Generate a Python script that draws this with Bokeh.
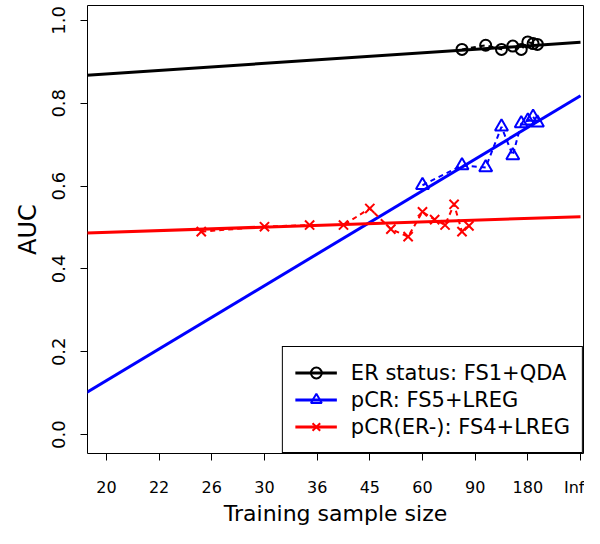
from bokeh.plotting import figure
from bokeh.models import Range1d, FixedTicker, Legend, LegendItem
from bokeh.embed import file_html
from bokeh.resources import INLINE

# ---- data ----
er_n = [80, 100, 120, 140, 160, 180, 200, 220]
er_auc = [0.930, 0.940, 0.930, 0.938, 0.930, 0.948, 0.944, 0.942]

pcr_n = [60, 80, 100, 120, 140, 160, 180, 200, 220]
pcr_auc = [0.602, 0.650, 0.645, 0.743, 0.674, 0.751, 0.758, 0.767, 0.753]

pcrneg_n = [25, 30, 35, 40, 45, 50, 55, 60, 65, 70, 75, 80, 85]
pcrneg_auc = [0.490, 0.502, 0.506, 0.506, 0.546, 0.496, 0.478, 0.538, 0.519, 0.506, 0.556, 0.490, 0.504]

# fitted learning curves: AUC(n) = a - c / n
fit_a = [0.947, 0.818, 0.526]
fit_c = [1.52, 13.75, 0.75]

series_labels = ["ER status: FS1+QDA", "pCR: FS5+LREG", "pCR(ER-): FS4+LREG"]
series_colors = ["#000000", "#0000FF", "#FF0000"]
series_markers = ["circle", "triangle", "x"]

x_tick_labels = ["Inf", "180", "90", "60", "45", "36", "30", "26", "22", "20"]
y_ticks = [0.0, 0.2, 0.4, 0.6, 0.8, 1.0]

K = 180.0  # x axis uses K / n (inverse sample size)

def tx(ns):
    return [K / n for n in ns]

FONT = "DejaVu Sans"

p = figure(width=584, height=528, output_backend="svg", toolbar_location=None,
           x_range=Range1d(9.36, -0.057), y_range=Range1d(-0.0456, 1.036),
           min_border_left=87, min_border_right=1, min_border_top=5, min_border_bottom=72)
p.xgrid.visible = False
p.ygrid.visible = False
p.outline_line_color = "black"
p.outline_line_width = 1
p.outline_line_alpha = 1.0
p.background_fill_color = "white"
p.border_fill_color = "white"

all_n = [er_n, pcr_n, pcrneg_n]
all_auc = [er_auc, pcr_auc, pcrneg_auc]
sizes = [11, 13, 13]

items = []
fit_u = [9.6, 0.0]
for i in range(3):
    col = series_colors[i]
    u = tx(all_n[i])
    p.line(u, all_auc[i], line_color=col, line_width=2, line_dash="5 4")
    sc = p.scatter(u, all_auc[i], marker=series_markers[i], size=sizes[i],
                   fill_color=None, line_color=col, line_width=2)
    fy = [fit_a[i] - fit_c[i] * uu / K for uu in fit_u]
    fl = p.line(fit_u, fy, line_color=col, line_width=3)
    items.append(LegendItem(label=series_labels[i], renderers=[fl, sc]))

legend = Legend(items=items, location="bottom_right", margin=0, padding=12, spacing=0,
                label_height=27, glyph_height=27, glyph_width=42, label_standoff=14,
                label_text_font=FONT, label_text_font_size="21px", label_text_color="black",
                border_line_color="black", border_line_width=1, border_line_alpha=1.0,
                background_fill_color="white", background_fill_alpha=1.0)
p.add_layout(legend)

# x axis
xa = p.xaxis[0]
xa.ticker = FixedTicker(ticks=list(range(len(x_tick_labels))))
xa.major_label_overrides = {i: lab for i, lab in enumerate(x_tick_labels)}
xa.axis_line_color = None
xa.major_tick_out = 7
xa.major_tick_in = 0
xa.minor_tick_out = 0
xa.minor_tick_in = 0
xa.major_tick_line_color = "black"
xa.major_label_standoff = 17
xa.major_label_text_font = FONT
xa.major_label_text_font_size = "16px"
xa.major_label_text_color = "black"
xa.axis_label = "Training sample size"
xa.axis_label_text_font = FONT
xa.axis_label_text_font_size = "22px"
xa.axis_label_text_font_style = "normal"
xa.axis_label_text_color = "black"
xa.axis_label_standoff = 1

ya = p.yaxis[0]
ya.ticker = FixedTicker(ticks=y_ticks)
ya.major_label_overrides = {t: "%.1f" % t for t in y_ticks}
ya.axis_line_color = None
ya.major_tick_out = 7
ya.major_tick_in = 0
ya.minor_tick_out = 0
ya.minor_tick_in = 0
ya.major_tick_line_color = "black"
ya.major_label_orientation = "vertical"
ya.major_label_standoff = 15
ya.major_label_text_font = FONT
ya.major_label_text_font_size = "18px"
ya.major_label_text_color = "black"
ya.axis_label = "AUC"
ya.axis_label_text_font = FONT
ya.axis_label_text_font_size = "24px"
ya.axis_label_text_font_style = "normal"
ya.axis_label_text_color = "black"
ya.axis_label_standoff = 8

open("out.html", "w").write(file_html(p, INLINE))
